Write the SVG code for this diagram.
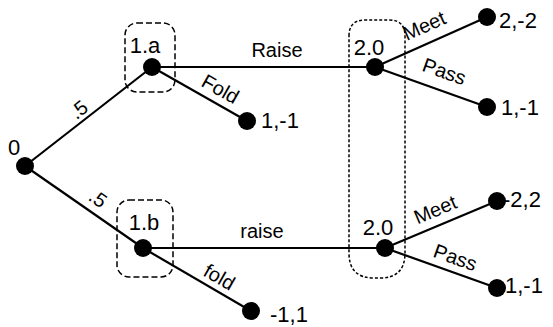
<svg xmlns="http://www.w3.org/2000/svg" width="553" height="327" viewBox="0 0 553 327">
<style>
.e{stroke:#000;stroke-width:2.2;fill:none}
.d{fill:#000}
.n{font-family:"Liberation Sans",Arial,sans-serif;font-size:22px;fill:#000}
.l{font-family:"Liberation Sans",Arial,sans-serif;font-size:20px;fill:#000;text-anchor:middle}
.box{fill:none;stroke:#000;stroke-width:1.5;stroke-dasharray:6 3}
.dot{fill:none;stroke:#000;stroke-width:1.5;stroke-dasharray:3 2}
</style>
<rect width="553" height="327" fill="#fff"/>
<g id="infosets">
<rect class="box" x="125" y="23" width="50" height="69" rx="12"/>
<rect class="box" x="117" y="200" width="56" height="77" rx="12"/>
<path class="dot" d="M349 36 Q349 20 365 20 L389 20 Q405 20 405 36 L405 253 Q405 278 380 278 L374 278 Q349 278 349 253 Z"/>
</g>
<g id="connectors">
<line class="e" x1="25" y1="166" x2="152" y2="67"/>
<line class="e" x1="25" y1="166" x2="143" y2="248"/>
<line class="e" x1="152" y1="67" x2="375" y2="67"/>
<line class="e" x1="152" y1="67" x2="247" y2="121"/>
<line class="e" x1="143" y1="248" x2="385" y2="248"/>
<line class="e" x1="143" y1="248" x2="251" y2="311"/>
<line class="e" x1="375" y1="67" x2="487" y2="17"/>
<line class="e" x1="375" y1="67" x2="487" y2="107"/>
<line class="e" x1="385" y1="248" x2="497" y2="201"/>
<line class="e" x1="385" y1="248" x2="497" y2="288"/>
<text class="l" transform="translate(83,115) rotate(-38)">.5</text>
<text class="l" transform="translate(94,204) rotate(35)">.5</text>
<text class="l" x="277" y="57">Raise</text>
<text class="l" x="262" y="238">raise</text>
<text class="l" transform="translate(217,95) rotate(29.6)">Fold</text>
<text class="l" transform="translate(216,283) rotate(30)">fold</text>
<text class="l" transform="translate(427,32) rotate(-24)">Meet</text>
<text class="l" transform="translate(442,78) rotate(19.7)">Pass</text>
<text class="l" transform="translate(438,216) rotate(-22.8)">Meet</text>
<text class="l" transform="translate(453,264) rotate(19.7)">Pass</text>
</g>
<g id="n0"><circle class="d" cx="25" cy="166" r="9"/><text class="n" x="8" y="155">0</text></g>
<g id="n1a"><circle class="d" cx="152" cy="67" r="9"/><text class="n" x="145" y="53" text-anchor="middle">1.a</text></g>
<g id="n1b"><circle class="d" cx="143" cy="248" r="9"/><text class="n" x="144" y="230" text-anchor="middle">1.b</text></g>
<g id="n2a"><circle class="d" cx="375" cy="67" r="9"/><text class="n" x="369" y="55" text-anchor="middle">2.0</text></g>
<g id="n2b"><circle class="d" cx="385" cy="248" r="9"/><text class="n" x="378" y="235" text-anchor="middle">2.0</text></g>
<g id="leafFoldA"><circle class="d" cx="247" cy="121" r="9"/><text class="n" x="261" y="128">1,-1</text></g>
<g id="leafFoldB"><circle class="d" cx="251" cy="311" r="9"/><text class="n" x="270" y="322">-1,1</text></g>
<g id="leafMeetA"><circle class="d" cx="487" cy="17" r="9"/><text class="n" x="499" y="28">2,-2</text></g>
<g id="leafPassA"><circle class="d" cx="487" cy="107" r="9"/><text class="n" x="501" y="115">1,-1</text></g>
<g id="leafMeetB"><circle class="d" cx="497" cy="201" r="9"/><text class="n" x="503" y="207">-2,2</text></g>
<g id="leafPassB"><circle class="d" cx="497" cy="288" r="9"/><text class="n" x="505" y="293">1,-1</text></g>
</svg>
